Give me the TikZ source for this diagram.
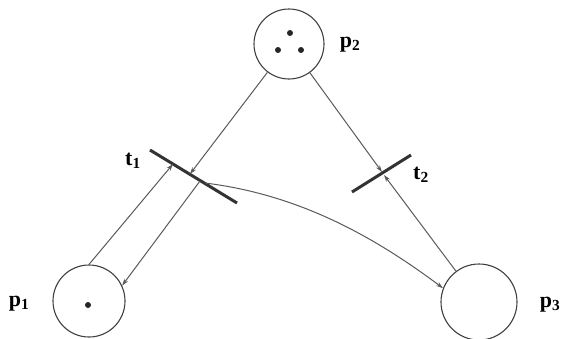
\documentclass[tikz,border=0pt]{standalone}
\usepackage{fontspec}
\setmainfont{Liberation Serif}
\usetikzlibrary{arrows.meta}
\begin{document}
\begin{tikzpicture}[x=1pt,y=-1pt,
  place/.style={circle,draw=black!75,line width=1.1pt,inner sep=0pt},
  arc/.style={draw=black!65,line width=1pt,-{Stealth[length=7pt,width=4.5pt]}},
  bar/.style={draw=black!80,line width=3pt},
  lab/.style={font=\fontsize{22}{24}\selectfont\bfseries,inner sep=0pt},
  token/.style={fill=black!85}]
\useasboundingbox (0,0) rectangle (564,338);
% places
\node[place,minimum size=70pt] (p2) at (289,44) {};
\node[place,minimum size=72pt] (p1) at (89,301) {};
\node[place,minimum size=76pt] (p3) at (479,302) {};
% tokens
\fill[token] (290,33) circle (3pt);
\fill[token] (278,50) circle (3pt);
\fill[token] (301,50) circle (3pt);
\fill[token] (88,305) circle (3pt);
% transition bars
\coordinate (t1L) at (150,150);
\coordinate (t1R) at (237,203);
\coordinate (t2L) at (352,192);
\coordinate (t2R) at (411,155);
\draw[bar] (t1L) -- (t1R);
\draw[bar] (t2L) -- (t2R);
% attachment points on bars
\coordinate (t1a) at (190,174);
\coordinate (t1b) at (173,164);
\coordinate (t1c) at (200,181);
\coordinate (t1d) at (205,183);
\coordinate (t2a) at (382,172);
\coordinate (t2b) at (384,175);
% arcs
\draw[arc] (p2) -- (t1a);
\draw[arc] (p2) -- (t2a);
\draw[arc] (p1.north) -- (t1b);
\draw[arc] (t1c) -- (p1.25);
\draw[arc] (p3) -- (t2b);
\draw[arc] (t1d) .. controls (294,194) and (368,232) .. (p3.159);
% labels
\node[lab] (lp2) at (350,45) {p$_{\mathbf{2}}$};
\node[lab] (lp1) at (19,304) {p$_{\mathbf{1}}$};
\node[lab] (lp3) at (550,305) {p$_{\mathbf{3}}$};
\node[lab] (lt1) at (133,161) {t$_{\mathbf{1}}$};
\node[lab] (lt2) at (421,175) {t$_{\mathbf{2}}$};
\end{tikzpicture}
\end{document}
